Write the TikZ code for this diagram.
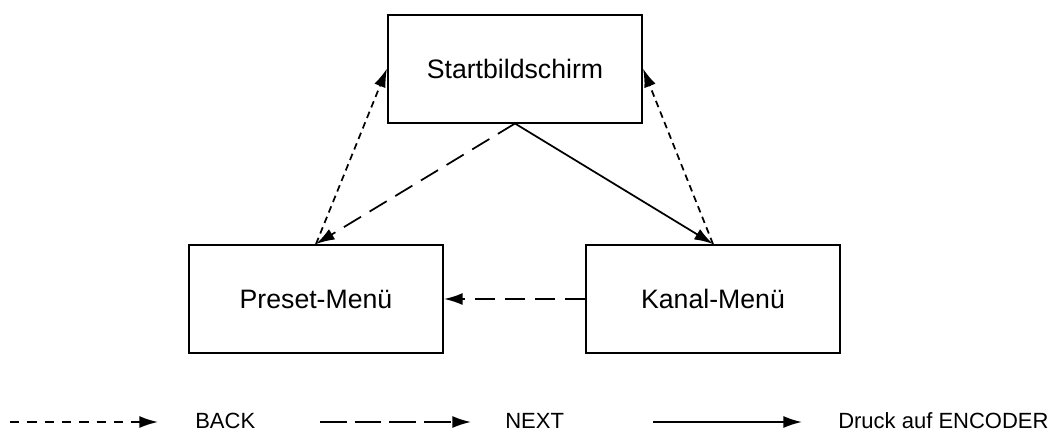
\documentclass[tikz,border=0pt]{standalone}
\usepackage{fontspec}
\setmainfont{Liberation Sans}
\usetikzlibrary{arrows.meta}
\begin{document}
\begin{tikzpicture}[x=0.75pt,y=-0.75pt,
  box/.style={draw,line width=1.5pt,minimum width=190.5pt,minimum height=81pt,inner sep=0pt,font=\fontsize{20}{24}\selectfont},
  lbl/.style={anchor=west,inner sep=0pt,font=\fontsize{16.5}{20}\selectfont},
  conn/.style={line width=1.3pt,-{Latex[length=14pt,width=9pt]}},
  backline/.style={conn,dash pattern=on 5pt off 3.5pt},
  nextline/.style={conn,dash pattern=on 15pt off 7.5pt},
  pushline/.style={conn},
  legback/.style={conn,dash pattern=on 7pt off 6pt},
  legnext/.style={conn,dash pattern=on 20pt off 6pt}]
\useasboundingbox (0,0) rectangle (1060,433);
\node[box] (S) at (515,68.5) {Startbildschirm};
\node[box] (P) at (316,299) {Preset-Menü};
\node[box] (K) at (713,299) {Kanal-Menü};
\draw[backline] (P.north) -- (S.west);
\draw[backline] (K.north) -- (S.east);
\draw[nextline] (S.south) -- (P.north);
\draw[pushline] (S.south) -- (K.north);
\draw[nextline] (K.west) -- (P.east);
% legend
\coordinate (b1) at (10,422);
\coordinate (b2) at (158,422);
\coordinate (n1) at (320,422);
\coordinate (n2) at (471,422);
\coordinate (d1) at (653,422);
\coordinate (d2) at (802,422);
\draw[legback] (b1) -- (b2);
\draw[legnext] (n1) -- (n2);
\draw[pushline] (d1) -- (d2);
\node[lbl] (lb) at (195,421) {BACK};
\node[lbl] (ln) at (505,421) {NEXT};
\node[lbl] (ld) at (838,421) {Druck auf ENCODER};
\end{tikzpicture}
\end{document}
